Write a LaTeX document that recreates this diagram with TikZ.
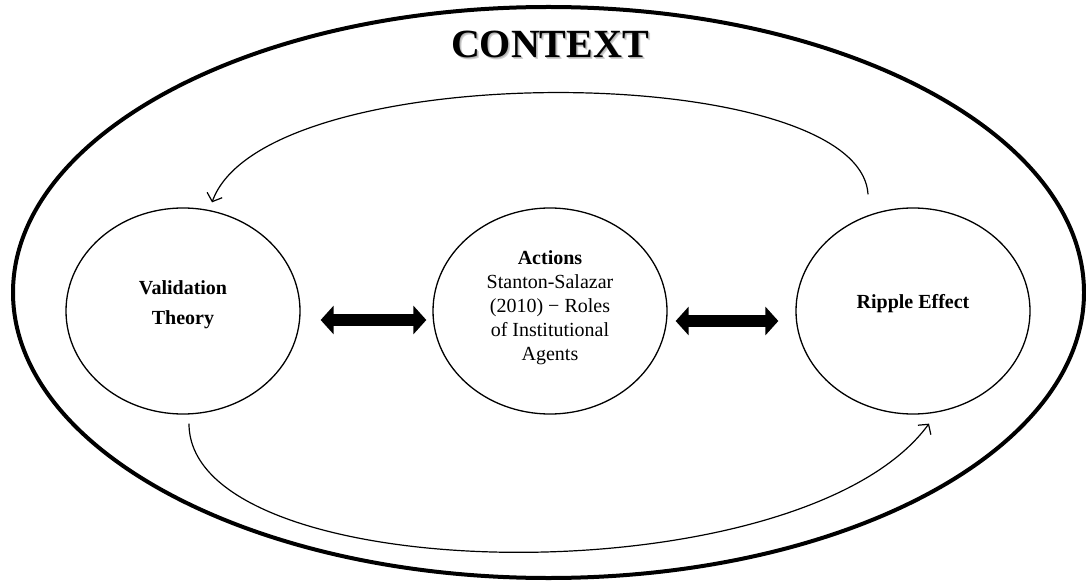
\documentclass[tikz,border=0pt]{standalone}
\usepackage{fontspec}
\setmainfont{Liberation Serif}
\usetikzlibrary{arrows.meta,shapes.geometric,calc}

% text with a soft grey drop shadow set behind it
\newcommand{\shadowed}[1]{%
  \rlap{\kern2pt\raisebox{-2pt}{\color{black!18}#1}}%
  \rlap{\kern1pt\raisebox{-1pt}{\color{black!30}#1}}%
  #1}

\begin{document}
\begin{tikzpicture}[x=1pt,y=-1pt,
  framing/.style={ellipse, draw, line width=4pt, inner sep=0pt,
    minimum width=1071pt, minimum height=571pt},
  topic/.style={ellipse, draw, line width=1.3pt, inner sep=0pt,
    minimum width=234pt, minimum height=206pt},
  titletext/.style={font=\bfseries\fontsize{40}{48}\selectfont, anchor=base},
  headtext/.style={font=\bfseries\fontsize{20}{30}\selectfont, align=center},
  bodytext/.style={font=\fontsize{20}{24}\selectfont, align=center},
  linkarrow/.style={line width=12pt,
    {Triangle[length=13pt,width=28pt]}-{Triangle[length=13pt,width=28pt]}},
  flowline/.style={line width=1.2pt, -{Straight Barb[length=7pt,width=16pt]}}
]
\useasboundingbox (0,0) rectangle (1086,585);

% outer context ellipse and its title
\node[framing] (ctx) at (548.5,292.5) {};
\node[titletext] (title) at (550,58) {\shadowed{CONTEXT}};

% the three concepts
\node[topic] (vt) at (183,311) {};
\node[topic] (ac) at (550,311) {};
\node[topic] (re) at (913,311) {};

\node[headtext] (vtlabel) at (183,305) {Validation\\Theory};
\node[bodytext] (aclabel) at (550,308)
  {\textbf{Actions}\\Stanton-Salazar\\(2010) − Roles\\of Institutional\\Agents};
\node[headtext] (relabel) at (913,304) {Ripple Effect};

% two-way links between neighbouring concepts
\draw[linkarrow] ($(vt.east)+(20,9)$) -- ($(ac.west)+(-6,9)$);
\draw[linkarrow] ($(ac.east)+(8,10)$) -- ($(re.west)+(-17,10)$);

% feedback loops over and under the concepts
\coordinate (tstart) at ($(re.north)+(-45,-13)$);
\coordinate (tend) at ($(vt.north)+(29,-5)$);
\coordinate (bstart) at ($(vt.south)+(6,9)$);
\coordinate (bend) at ($(re.south)+(16,9)$);

\draw[flowline] (tstart) .. controls (860,60) and (265,55) .. (tend);
\draw[flowline] (bstart) .. controls (189,590) and (800,600) .. (bend);
\end{tikzpicture}
\end{document}
